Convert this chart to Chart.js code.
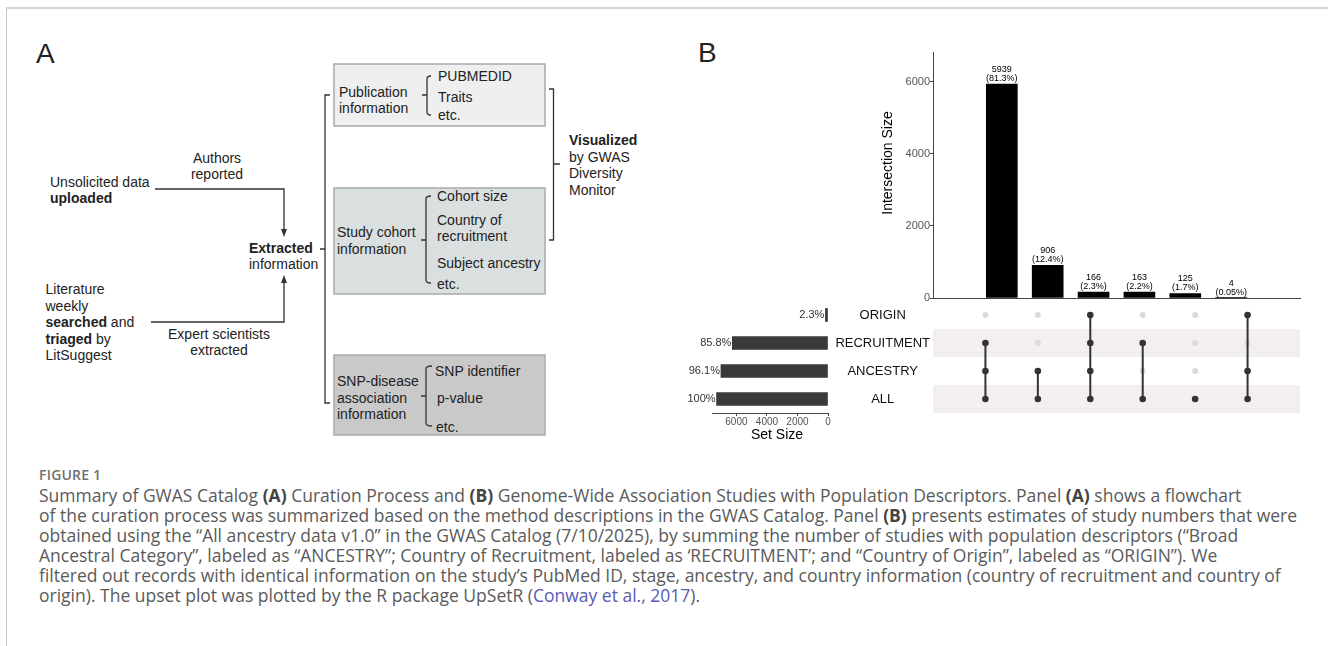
<!DOCTYPE html>
<html>
<head>
<meta charset="utf-8">
<script src="https://cdn.jsdelivr.net/npm/chart.js@4.4.1/dist/chart.umd.min.js"></script>
<style>
  html, body { margin: 0; padding: 0; background: #fff; }
  body { width: 1328px; height: 646px; overflow: hidden; position: relative; font-family: 'Liberation Sans', Arial, sans-serif; }
  #frame { position: absolute; left: 6px; top: 7px; width: 1330px; height: 650px; border-top: 2px solid #d4d4d4; border-left: 1px solid #c8c8c8; }
  .abs { position: absolute; }
  canvas { position: absolute; }
  #panelB { left: 698px; top: 38px; font-size: 28px; color: #222; line-height: 30px; }
  #caption { left: 39px; top: 465px; font-family: 'Open Sans', 'Noto Sans', sans-serif; color: #5a5a5a; white-space: nowrap; }
  #caption .fig { font-size: 14px; font-weight: 600; color: #707070; line-height: 20px; height: 20px; letter-spacing: 0.2px; }
  #caption .ln { font-size: 17.5px; line-height: 20px; height: 20px; }
  #caption b { font-weight: 700; color: #444; }
  #caption a { color: #5a5ab4; text-decoration: none; }
</style>
</head>
<body>
<div id="frame"></div>

<svg class="abs" style="left:0;top:0" width="700" height="460" font-family="'Liberation Sans', Arial, sans-serif" font-size="14" fill="#222">
  <text x="36" y="63" font-size="28">A</text>

  <rect x="334" y="64" width="211" height="62" fill="#efefef" stroke="#a9a9a9" stroke-width="1.5"/>
  <rect x="334" y="188" width="211" height="106" fill="#dadfdf" stroke="#a9a9a9" stroke-width="1.5"/>
  <rect x="334" y="355" width="211" height="80" fill="#c9c9c9" stroke="#a9a9a9" stroke-width="1.5"/>

  <g fill="none" stroke="#333" stroke-width="1.3">
    <path d="M155,189 H284 V230"/>
    <path d="M151,322 H284 V282"/>
    <path d="M330,95 H325 V403 H330 M325,249 H320"/>
    <path d="M549,89 H553.5 V240 H549 M553.5,164 H560"/>
    <path d="M431,76 Q427,76 427,79 V112 Q427,115 431,115 M427,95 H422"/>
    <path d="M431,196 Q426,196 426,199 V280 Q426,283 431,283 M426,240 H421"/>
    <path d="M432,366 Q426,366 426,369 V423 Q426,426 432,426 M426,396 H421"/>
  </g>
  <polygon points="281,229 287,229 284,237" fill="#333"/>
  <polygon points="281,283 287,283 284,275" fill="#333"/>

  <text x="50" y="186.5">Unsolicited data</text>
  <text x="50" y="203" font-weight="bold">uploaded</text>
  <text x="217" y="162.5" text-anchor="middle">Authors</text>
  <text x="217" y="179" text-anchor="middle">reported</text>

  <text x="45.5" y="294">Literature</text>
  <text x="45.5" y="310.5">weekly</text>
  <text x="45.5" y="327"><tspan font-weight="bold">searched</tspan> and</text>
  <text x="45.5" y="344"><tspan font-weight="bold">triaged</tspan> by</text>
  <text x="45.5" y="360">LitSuggest</text>
  <text x="219" y="339" text-anchor="middle">Expert scientists</text>
  <text x="219" y="355" text-anchor="middle">extracted</text>

  <text x="249" y="253" font-weight="bold">Extracted</text>
  <text x="249" y="269">information</text>

  <text x="339" y="97">Publication</text>
  <text x="339" y="113">information</text>
  <text x="438" y="81">PUBMEDID</text>
  <text x="438" y="101.5">Traits</text>
  <text x="438" y="120">etc.</text>

  <text x="337" y="237">Study cohort</text>
  <text x="337" y="254">information</text>
  <text x="437" y="201">Cohort size</text>
  <text x="437" y="225">Country of</text>
  <text x="437" y="241">recruitment</text>
  <text x="437" y="267.5">Subject ancestry</text>
  <text x="437" y="289">etc.</text>

  <text x="337" y="386">SNP-disease</text>
  <text x="337" y="402.5">association</text>
  <text x="337" y="419">information</text>
  <text x="435" y="376">SNP identifier</text>
  <text x="437" y="403">p-value</text>
  <text x="436" y="431.5">etc.</text>

  <text x="569" y="145" font-weight="bold">Visualized</text>
  <text x="569" y="161.5">by GWAS</text>
  <text x="569" y="178">Diversity</text>
  <text x="569" y="195">Monitor</text>
</svg>

<div id="panelB" class="abs">B</div>

<canvas id="setChart" width="180" height="145" style="left:660px;top:300px"></canvas>
<canvas id="matrixChart" width="480" height="139" style="left:830px;top:288px"></canvas>
<canvas id="barChart" width="480" height="265" style="left:830px;top:40px"></canvas>

<div id="caption" class="abs">
  <div class="fig">FIGURE 1</div>
  <div class="ln">Summary of GWAS Catalog <b>(A)</b> Curation Process and <b>(B)</b> Genome-Wide Association Studies with Population Descriptors. Panel <b>(A)</b> shows a flowchart</div>
  <div class="ln">of the curation process was summarized based on the method descriptions in the GWAS Catalog. Panel <b>(B)</b> presents estimates of study numbers that were</div>
  <div class="ln">obtained using the “All ancestry data v1.0” in the GWAS Catalog (7/10/2025), by summing the number of studies with population descriptors (“Broad</div>
  <div class="ln">Ancestral Category”, labeled as “ANCESTRY”; Country of Recruitment, labeled as ‘RECRUITMENT’; and “Country of Origin”, labeled as “ORIGIN”). We</div>
  <div class="ln">filtered out records with identical information on the study’s PubMed ID, stage, ancestry, and country information (country of recruitment and country of</div>
  <div class="ln">origin). The upset plot was plotted by the R package UpSetR (<a>Conway et al., 2017</a>).</div>
</div>

<script>
// UpSet data (GWAS Catalog population descriptors)
const setNames = ['ORIGIN', 'RECRUITMENT', 'ANCESTRY', 'ALL'];
const setSizes = [170, 6268, 7015, 7303];
const setPercents = ['2.3%', '85.8%', '96.1%', '100%'];
const setSizeTicks = [0, 2000, 4000, 6000];

const intersectionSizes = [5939, 906, 166, 163, 125, 4];
const intersectionPercents = ['81.3%', '12.4%', '2.3%', '2.2%', '1.7%', '0.05%'];
const intersectionTicks = [0, 2000, 4000, 6000];
const intersectionSets = [
    ['RECRUITMENT', 'ANCESTRY', 'ALL'],
    ['ANCESTRY', 'ALL'],
    ['ORIGIN', 'RECRUITMENT', 'ANCESTRY', 'ALL'],
    ['RECRUITMENT', 'ALL'],
    ['ALL'],
    ['ORIGIN', 'ANCESTRY', 'ALL']
];

const fontFamily = "'Liberation Sans', Arial, sans-serif";
Chart.defaults.font.family = fontFamily;
Chart.defaults.animation = false;
Chart.defaults.plugins.legend.display = false;
Chart.defaults.plugins.tooltip.enabled = false;

const plainTick = v => String(v);

// value + percentage above each intersection bar, and the rotated axis title
const barLabels = {
    id: 'barLabels',
    afterDatasetsDraw(chart) {
        const ctx = chart.ctx;
        const meta = chart.getDatasetMeta(0);
        ctx.save();
        ctx.fillStyle = '#000';
        ctx.textAlign = 'center';
        ctx.font = '9px ' + fontFamily;
        meta.data.forEach((bar, i) => {
            ctx.fillText(String(intersectionSizes[i]), bar.x, bar.y - 12);
            ctx.fillText('(' + intersectionPercents[i] + ')', bar.x, bar.y - 3);
        });
        ctx.font = '14px ' + fontFamily;
        ctx.translate(58, 123);
        ctx.rotate(-Math.PI / 2);
        ctx.textBaseline = 'middle';
        ctx.fillText('Intersection Size', 0, 0);
        ctx.restore();
    }
};

new Chart(document.getElementById('barChart'), {
    type: 'bar',
    data: {
        datasets: [{
            data: intersectionSizes.map((v, i) => ({ x: i + 1, y: v })),
            backgroundColor: '#000',
            barThickness: 31
        }]
    },
    options: {
        responsive: false,
        layout: { padding: { top: 12, right: 10, left: 0, bottom: 0 } },
        scales: {
            x: {
                type: 'linear', min: 0, max: 7,
                ticks: { display: false },
                grid: { display: false },
                border: { color: '#444' },
                afterFit(s) { s.height = 7; }
            },
            y: {
                min: 0, max: 6830,
                afterBuildTicks(s) { s.ticks = intersectionTicks.map(v => ({ value: v })); },
                ticks: { color: '#555', font: { size: 11 }, padding: 0, callback: plainTick },
                grid: { drawOnChartArea: false, tickLength: 3, color: '#444' },
                border: { color: '#444' },
                afterFit(s) { s.width = 103; }
            }
        }
    },
    plugins: [barLabels]
});

// shaded rows behind the membership matrix
const rowBands = {
    id: 'rowBands',
    beforeDatasetsDraw(chart) {
        const { ctx, chartArea, scales: { y } } = chart;
        const half = Math.abs(y.getPixelForValue(1) - y.getPixelForValue(0)) / 2;
        ctx.save();
        ctx.fillStyle = '#f3efef';
        setNames.forEach((n, i) => {
            if (i % 2 === 1) {
                const c = y.getPixelForValue(i);
                ctx.fillRect(chartArea.left, c - half, chartArea.right - chartArea.left, half * 2);
            }
        });
        ctx.restore();
    }
};

const emptyDots = [];
intersectionSets.forEach((sets, i) => {
    setNames.forEach(n => { if (!sets.includes(n)) emptyDots.push({ x: i + 1, y: n }); });
});

new Chart(document.getElementById('matrixChart'), {
    type: 'scatter',
    data: {
        datasets: [{
            data: emptyDots,
            pointRadius: 3,
            pointBackgroundColor: '#dadada',
            pointBorderWidth: 0,
            showLine: false,
            order: 2
        }].concat(intersectionSets.map((sets, i) => ({
            data: sets.map(n => ({ x: i + 1, y: n })),
            showLine: true,
            borderColor: '#333',
            borderWidth: 2,
            pointRadius: 3.3,
            pointBackgroundColor: '#333',
            pointBorderWidth: 0,
            order: 1
        })))
    },
    options: {
        responsive: false,
        layout: { padding: { top: 13, right: 10, left: 0, bottom: 14 } },
        scales: {
            x: { type: 'linear', min: 0, max: 7, display: false },
            y: {
                type: 'category', labels: setNames, offset: true,
                ticks: { color: '#111', font: { size: 13 }, crossAlign: 'center', padding: 3 },
                grid: { display: false, drawTicks: false },
                border: { display: false },
                afterFit(s) { s.width = 103; }
            }
        }
    },
    plugins: [rowBands]
});

// percentage at the end of each set-size bar and the axis title
const setLabels = {
    id: 'setLabels',
    afterDatasetsDraw(chart) {
        const ctx = chart.ctx;
        const meta = chart.getDatasetMeta(0);
        ctx.save();
        ctx.fillStyle = '#333';
        ctx.font = '11px ' + fontFamily;
        ctx.textAlign = 'right';
        ctx.textBaseline = 'middle';
        meta.data.forEach((bar, i) => ctx.fillText(setPercents[i], bar.x - 1, bar.y));
        ctx.fillStyle = '#000';
        ctx.font = '14px ' + fontFamily;
        ctx.textAlign = 'center';
        ctx.fillText('Set Size', 117, 135);
        ctx.restore();
    }
};

new Chart(document.getElementById('setChart'), {
    type: 'bar',
    data: {
        labels: setNames,
        datasets: [{ data: setSizes, backgroundColor: '#3a3a3a', barThickness: 13 }]
    },
    options: {
        responsive: false,
        indexAxis: 'y',
        layout: { padding: { top: 1, right: 12, left: 52, bottom: 0 } },
        scales: {
            x: {
                reverse: true, min: 0, max: 7600,
                afterBuildTicks(s) { s.ticks = setSizeTicks.map(v => ({ value: v })); },
                ticks: { color: '#555', font: { size: 10 }, padding: 0, maxRotation: 0, autoSkip: false, callback: plainTick },
                grid: { drawOnChartArea: false, tickLength: 3, color: '#444' },
                border: { color: '#444' },
                afterFit(s) { s.height = 32; }
            },
            y: { display: false }
        }
    },
    plugins: [setLabels]
});
</script>
</body>
</html>
